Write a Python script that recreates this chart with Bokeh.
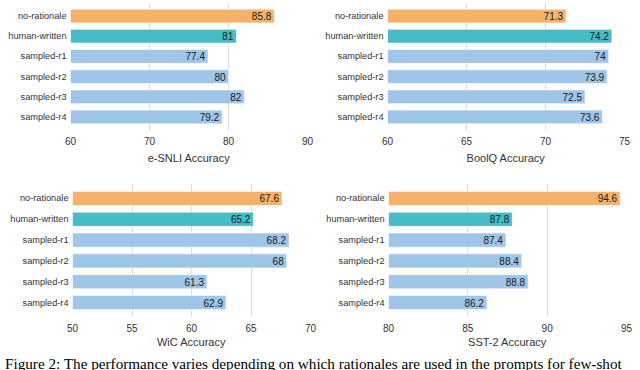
from bokeh.plotting import figure
from bokeh.models import ColumnDataSource, FactorRange, Range1d, Div, FixedTicker
from bokeh.layouts import column, row
from bokeh.embed import file_html
from bokeh.resources import INLINE
from bokeh.core.properties import value

categories = ["no-rationale", "human-written", "sampled-r1", "sampled-r2", "sampled-r3", "sampled-r4"]
bar_colors = ["#f6b26b", "#46bdc6", "#9fc5e8", "#9fc5e8", "#9fc5e8", "#9fc5e8"]

esnli = [85.8, 81, 77.4, 80, 82, 79.2]
boolq = [71.3, 74.2, 74, 73.9, 72.5, 73.6]
wic = [67.6, 65.2, 68.2, 68, 61.3, 62.9]
sst2 = [94.6, 87.8, 87.4, 88.4, 88.8, 86.2]

esnli_ticks = [60, 70, 80, 90]
boolq_ticks = [60, 65, 70, 75]
wic_ticks = [50, 55, 60, 65, 70]
sst2_ticks = [80, 85, 90, 95]

titles = ["e-SNLI Accuracy", "BoolQ Accuracy", "WiC Accuracy", "SST-2 Accuracy"]
caption = "Figure 2: The performance varies depending on which rationales are used in the prompts for few-shot"

FONT = "Liberation Sans"


def make_panel(vals, ticks, title, fw, fh, bl, br, bt, bb, pad, tick_standoff, title_standoff):
    lo, hi = ticks[0], ticks[-1]
    src = ColumnDataSource(dict(
        cat=categories,
        val=vals,
        base=[lo] * len(vals),
        color=bar_colors,
        label=[f"{v:g}" for v in vals],
    ))
    p = figure(
        y_range=FactorRange(*reversed(categories), range_padding=pad),
        x_range=Range1d(lo, hi),
        frame_width=fw, frame_height=fh,
        output_backend="svg", toolbar_location=None,
        min_border_left=bl, min_border_right=br,
        min_border_top=bt, min_border_bottom=bb,
    )
    p.hbar(y="cat", left="base", right="val", height=0.68, source=src,
           fill_color="color", line_color="white", line_alpha=0.6, line_width=1)
    p.text(x="val", y="cat", text="label", source=src, x_offset=-3,
           text_align="right", text_baseline="middle",
           text_font=value(FONT), text_font_size="10px", text_color="#1a1a1a")
    p.outline_line_color = None
    p.ygrid.grid_line_color = None
    p.xgrid.grid_line_color = "#dcdcdc"
    p.xgrid.grid_line_width = 1
    p.xaxis.ticker = FixedTicker(ticks=ticks)
    for ax in (p.xaxis[0], p.yaxis[0]):
        ax.axis_line_color = None
        ax.major_tick_line_color = None
        ax.minor_tick_line_color = None
        ax.major_tick_out = 0
        ax.major_tick_in = 0
        ax.minor_tick_out = 0
        ax.minor_tick_in = 0
        ax.major_label_text_font = FONT
        ax.major_label_text_color = "#333333"
    p.yaxis.major_label_text_font_size = "9.2px"
    p.yaxis.major_label_standoff = 4
    p.xaxis.major_label_text_font_size = "10px"
    p.xaxis.major_label_standoff = tick_standoff
    p.xaxis.axis_label = title
    p.xaxis.axis_label_text_font = FONT
    p.xaxis.axis_label_text_font_style = "normal"
    p.xaxis.axis_label_text_font_size = "11px"
    p.xaxis.axis_label_text_color = "#333333"
    p.xaxis.axis_label_standoff = title_standoff
    p.background_fill_color = "white"
    p.border_fill_color = "white"
    return p


p1 = make_panel(esnli, esnli_ticks, titles[0], 237, 128, 70, 13, 2, 46, 0.057, 6, 4)
p2 = make_panel(boolq, boolq_ticks, titles[1], 237, 128, 67, 16, 2, 46, 0.057, 6, 4)
p3 = make_panel(wic, wic_ticks, titles[2], 238, 134, 72, 10, 7, 33, 0.073, 6, 1)
p4 = make_panel(sst2, sst2_ticks, titles[3], 238, 134, 68, 14, 7, 33, 0.073, 6, 1)

div = Div(text=caption, width=640, height=18, styles={
    "font-family": "'Liberation Serif', 'Times New Roman', serif",
    "font-size": "15.2px",
    "line-height": "17px",
    "white-space": "nowrap",
    "overflow": "hidden",
    "color": "#000000",
})

layout = column(row(p1, p2), row(p3, p4), div)

open("out.html", "w").write(file_html(layout, INLINE))
